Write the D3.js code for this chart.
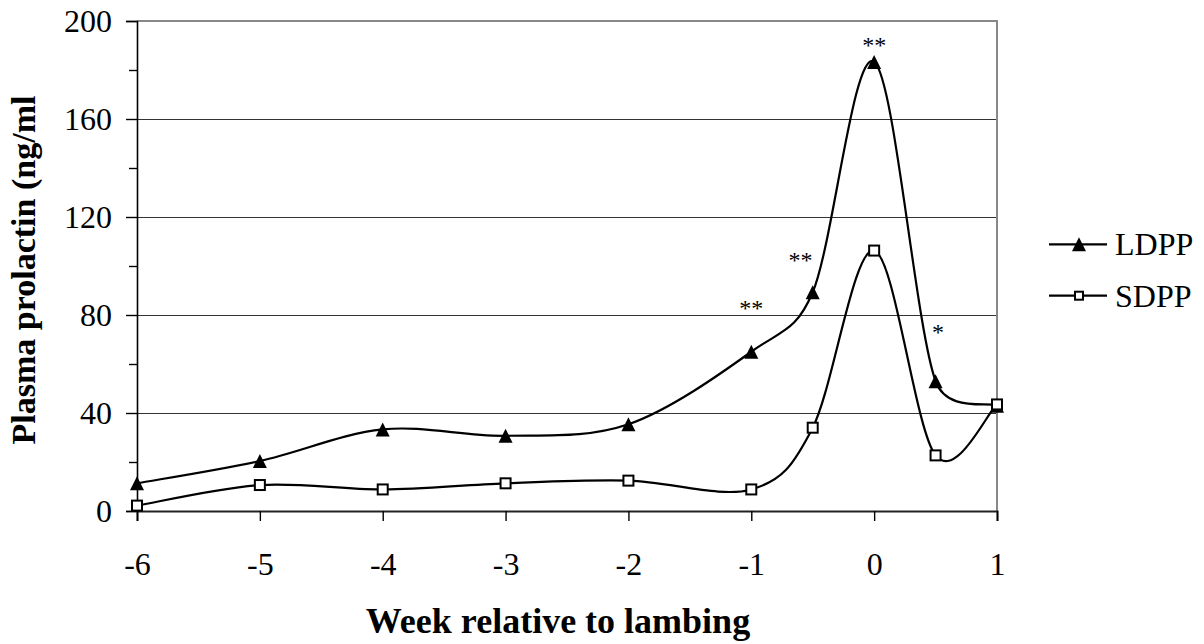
<!DOCTYPE html>
<html>
<head>
<meta charset="utf-8">
<script src="https://cdn.jsdelivr.net/npm/d3@7"></script>
<style>
  html, body { margin: 0; padding: 0; background: #fff; }
  svg { display: block; }
  text { font-family: "Liberation Serif", "Times New Roman", serif; fill: #000; }
</style>
</head>
<body>
<svg id="chart" width="1204" height="644"></svg>
<script>
// ---- data ----
const weeks = [-6, -5, -4, -3, -2, -1, -0.5, 0, 0.5, 1];
const ldpp  = [11.3, 20.4, 33.3, 30.7, 35.4, 65.0, 89.3, 183.3, 53.0, 43.0];
const sdpp  = [2.2, 10.6, 8.8, 11.3, 12.4, 8.8, 34.0, 106.3, 22.7, 43.5];
const xTicks = [-6, -5, -4, -3, -2, -1, 0, 1];
const yTicks = [0, 40, 80, 120, 160, 200];
const yMinorTicks = [20, 60, 100, 140, 180];
const seriesNames = ["LDPP", "SDPP"];
// significance marks: label, week, value position
const sigLabels = ["**", "**", "**", "*"];
const sigWeeks  = [-1, -0.6, 0, 0.52];
const sigValues = [84, 103.6, 191.4, 74.2];

// ---- layout ----
const L = 137, R = 997, T = 21, B = 511;
const svg = d3.select("#chart");
const x = d3.scaleLinear().domain([-6, 1]).range([L, R]);
const y = d3.scaleLinear().domain([0, 200]).range([B, T]);

// Excel-style smoothed curve (Bezier with 1/6 tangents, limited on short segments)
function ExcelCurve(context) { this._context = context; }
ExcelCurve.prototype = {
  areaStart() {}, areaEnd() {},
  lineStart() { this._pts = []; },
  point(px, py) { this._pts.push([+px, +py]); },
  lineEnd() {
    const p = this._pts, n = p.length, c = this._context, k = 0.5;
    if (!n) return;
    c.moveTo(p[0][0], p[0][1]);
    if (n === 1) return;
    const tan = p.map((_, i) => {
      const a = p[Math.max(i - 1, 0)], b = p[Math.min(i + 1, n - 1)];
      return [(b[0] - a[0]) / 6, (b[1] - a[1]) / 6];
    });
    const clamp = (t, lim) => {
      const len = Math.hypot(t[0], t[1]);
      if (len > lim && len > 0) { const s = lim / len; return [t[0] * s, t[1] * s]; }
      return t;
    };
    for (let i = 0; i < n - 1; i++) {
      const d = Math.hypot(p[i + 1][0] - p[i][0], p[i + 1][1] - p[i][1]);
      const t1 = clamp(tan[i], k * d), t2 = clamp(tan[i + 1], k * d);
      c.bezierCurveTo(p[i][0] + t1[0], p[i][1] + t1[1],
                      p[i + 1][0] - t2[0], p[i + 1][1] - t2[1],
                      p[i + 1][0], p[i + 1][1]);
    }
  }
};
const curveExcel = ctx => new ExcelCurve(ctx);

// gridlines
svg.append("g").selectAll("line").data([40, 80, 120, 160]).join("line")
  .attr("x1", L).attr("x2", R).attr("y1", d => Math.round(y(d)) + 0.5).attr("y2", d => Math.round(y(d)) + 0.5)
  .attr("stroke", "#333").attr("stroke-width", 1);

// plot border (top & right)
svg.append("path")
  .attr("d", `M${L},${y(200)}H${R}V${B}`)
  .attr("fill", "none").attr("stroke", "#888").attr("stroke-width", 2);

// y axis major
const yAxis = svg.append("g").attr("transform", `translate(${L},0)`)
  .call(d3.axisLeft(y).tickValues(yTicks).tickSize(11).tickPadding(14).tickFormat(d3.format("d")));
yAxis.select(".domain").attr("stroke", "#000").attr("stroke-width", 1.6);
yAxis.selectAll(".tick line").attr("stroke", "#000").attr("stroke-width", 1.4);
yAxis.selectAll(".tick text").attr("font-size", 32).attr("fill", "#000");
// y axis minor
const yMinor = svg.append("g").attr("transform", `translate(${L},0)`)
  .call(d3.axisLeft(y).tickValues(yMinorTicks).tickSize(8).tickFormat(""));
yMinor.select(".domain").remove();
yMinor.selectAll(".tick line").attr("stroke", "#000").attr("stroke-width", 1.4);

// x axis
const xAxis = svg.append("g").attr("transform", `translate(0,${B})`)
  .call(d3.axisBottom(x).tickValues(xTicks).tickSize(10).tickPadding(31).tickFormat(d3.format("d")));
xAxis.select(".domain").attr("stroke", "#222").attr("stroke-width", 2);
xAxis.selectAll(".tick line").attr("stroke", "#000").attr("stroke-width", 1.4);
xAxis.selectAll(".tick text").attr("font-size", 32).attr("fill", "#000")
  .text(d => d < 0 ? "-" + Math.abs(d) : d);

// line generator
const line = d3.line().x(d => x(d[0])).y(d => y(d[1])).curve(curveExcel);

// custom markers
const triangle = { draw(ctx) { const w = 7, h = 7; ctx.moveTo(0, -h); ctx.lineTo(w, h); ctx.lineTo(-w, h); ctx.closePath(); } };

const ldppPts = weeks.map((w, i) => [w, ldpp[i]]);
const sdppPts = weeks.map((w, i) => [w, sdpp[i]]);

svg.append("path").attr("d", line(ldppPts)).attr("fill", "none").attr("stroke", "#000").attr("stroke-width", 2.2);
svg.append("g").selectAll("path").data(ldppPts).join("path")
  .attr("transform", d => `translate(${x(d[0])},${y(d[1])})`)
  .attr("d", d3.symbol().type(triangle)()).attr("fill", "#000");

svg.append("path").attr("d", line(sdppPts)).attr("fill", "none").attr("stroke", "#000").attr("stroke-width", 2.2);
svg.append("g").selectAll("rect").data(sdppPts).join("rect")
  .attr("x", d => x(d[0]) - 5).attr("y", d => y(d[1]) - 5)
  .attr("width", 10).attr("height", 10)
  .attr("fill", "#fff").attr("stroke", "#000").attr("stroke-width", 2);

// significance annotations
svg.append("g").selectAll("text").data(sigLabels).join("text")
  .attr("x", (d, i) => x(sigWeeks[i])).attr("y", (d, i) => y(sigValues[i]) + 11)
  .attr("text-anchor", "middle").attr("font-size", 24).attr("fill", "#333")
  .text(d => d);

// axis titles
svg.append("text").attr("x", 558).attr("y", 633).attr("text-anchor", "middle")
  .attr("font-size", 36).attr("font-weight", "bold").text("Week relative to lambing");
svg.append("text").attr("transform", "translate(35,270) rotate(-90)").attr("text-anchor", "middle")
  .attr("font-size", 34).attr("font-weight", "bold").text("Plasma prolactin (ng/ml");

// legend
const legY = [244.3, 295.7];
const leg = svg.append("g").selectAll("g").data(seriesNames).join("g")
  .attr("transform", (d, i) => `translate(0,${legY[i]})`);
leg.append("line").attr("x1", 1049).attr("x2", 1107).attr("y1", 0).attr("y2", 0)
  .attr("stroke", "#000").attr("stroke-width", 2.2);
leg.filter((d, i) => i === 0).append("path")
  .attr("transform", "translate(1079,0)").attr("d", d3.symbol().type(triangle)()).attr("fill", "#000");
leg.filter((d, i) => i === 1).append("rect")
  .attr("x", 1075).attr("y", -4).attr("width", 8).attr("height", 8)
  .attr("fill", "#fff").attr("stroke", "#000").attr("stroke-width", 2);
leg.append("text").attr("x", 1115).attr("y", 11).attr("font-size", 32).text(d => d);
</script>
</body>
</html>
